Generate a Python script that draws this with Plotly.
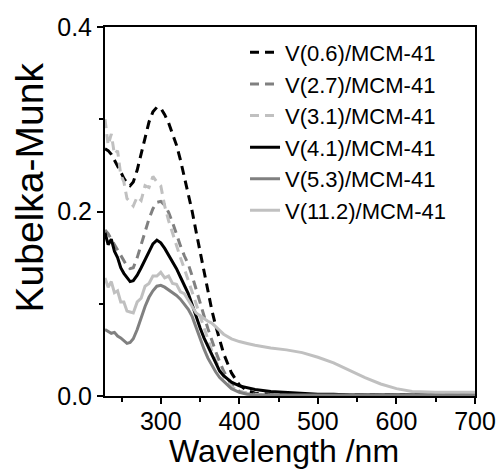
import plotly.graph_objects as go

# wavelength grid (nm)
wavelength = [229, 233, 237, 241, 245, 249, 253, 257, 261, 265, 270, 275, 280, 285, 290,
              295, 300, 305, 310, 315, 320, 325, 330, 335, 340, 345, 350, 355, 360, 365,
              370, 375, 380, 390, 400, 410, 420, 440, 460, 480, 500, 520, 540, 560, 580,
              600, 620, 650, 700]

v06 = [0.268, 0.266, 0.262, 0.256, 0.250, 0.243, 0.236, 0.231, 0.228, 0.232, 0.245, 0.262,
       0.281, 0.297, 0.308, 0.313, 0.312, 0.305, 0.296, 0.284, 0.272, 0.256, 0.238, 0.220,
       0.200, 0.178, 0.156, 0.133, 0.112, 0.093, 0.076, 0.060, 0.046, 0.025, 0.012, 0.006,
       0.003, 0.002, 0.001, 0.001, 0.001, 0.001, 0.001, 0.001, 0.001, 0.001, 0.001, 0.001,
       0.001]

v27 = [0.180, 0.176, 0.170, 0.164, 0.158, 0.152, 0.146, 0.141, 0.138, 0.139, 0.150, 0.163,
       0.178, 0.192, 0.203, 0.210, 0.211, 0.207, 0.199, 0.188, 0.175, 0.163, 0.152, 0.143,
       0.130, 0.115, 0.100, 0.087, 0.073, 0.060, 0.048, 0.037, 0.027, 0.012, 0.005, 0.003,
       0.002, 0.001, 0.001, 0.001, 0.001, 0.001, 0.001, 0.001, 0.001, 0.001, 0.001, 0.001,
       0.001]

v31 = [0.300, 0.272, 0.284, 0.262, 0.266, 0.240, 0.232, 0.214, 0.210, 0.206, 0.216, 0.212,
       0.228, 0.226, 0.238, 0.232, 0.228, 0.206, 0.190, 0.176, 0.162, 0.150, 0.138, 0.126,
       0.113, 0.100, 0.087, 0.074, 0.061, 0.049, 0.038, 0.029, 0.021, 0.010, 0.005, 0.003,
       0.002, 0.001, 0.001, 0.001, 0.001, 0.001, 0.001, 0.001, 0.001, 0.001, 0.001, 0.001,
       0.001]

v41 = [0.177, 0.164, 0.170, 0.157, 0.150, 0.139, 0.133, 0.128, 0.124, 0.125, 0.131, 0.139,
       0.148, 0.157, 0.165, 0.169, 0.166, 0.160, 0.153, 0.146, 0.138, 0.129, 0.120, 0.111,
       0.099, 0.086, 0.074, 0.063, 0.054, 0.044, 0.035, 0.027, 0.022, 0.015, 0.011, 0.009,
       0.007, 0.005, 0.004, 0.003, 0.002, 0.002, 0.001, 0.001, 0.001, 0.001, 0.001, 0.001,
       0.001]

v53 = [0.072, 0.070, 0.068, 0.069, 0.065, 0.063, 0.060, 0.057, 0.058, 0.062, 0.072, 0.085,
       0.097, 0.107, 0.114, 0.119, 0.120, 0.118, 0.115, 0.112, 0.109, 0.105, 0.100, 0.094,
       0.086, 0.074, 0.062, 0.051, 0.041, 0.033, 0.026, 0.020, 0.016, 0.008, 0.004, 0.002,
       0.001, 0.001, 0.001, 0.001, 0.001, 0.001, 0.001, 0.001, 0.001, 0.001, 0.001, 0.001,
       0.001]

v112 = [0.128, 0.118, 0.124, 0.112, 0.114, 0.102, 0.102, 0.092, 0.091, 0.090, 0.102, 0.106,
        0.119, 0.122, 0.130, 0.130, 0.134, 0.128, 0.130, 0.122, 0.121, 0.113, 0.111, 0.104,
        0.098, 0.090, 0.087, 0.084, 0.081, 0.079, 0.075, 0.071, 0.067, 0.062, 0.059, 0.057,
        0.055, 0.052, 0.050, 0.047, 0.042, 0.036, 0.028, 0.020, 0.013, 0.008, 0.005, 0.004,
        0.004]

series = [
    ("V(0.6)/MCM-41", v06, "#000000", "9px,6px"),
    ("V(2.7)/MCM-41", v27, "#808080", "9px,6px"),
    ("V(3.1)/MCM-41", v31, "#c0c0c0", "9px,6px"),
    ("V(4.1)/MCM-41", v41, "#000000", "solid"),
    ("V(5.3)/MCM-41", v53, "#808080", "solid"),
    ("V(11.2)/MCM-41", v112, "#c0c0c0", "solid"),
]

font_name = "Liberation Sans, Arial, sans-serif"

fig = go.Figure()
for name, vals, col, dash in series:
    fig.add_trace(
        go.Scatter(
            x=wavelength,
            y=vals,
            mode="lines",
            name=name,
            line=dict(color=col, width=3, dash=dash),
        )
    )

fig.update_layout(
    width=497,
    height=471,
    margin=dict(l=105, r=22, t=27, b=75, autoexpand=False),
    plot_bgcolor="white",
    paper_bgcolor="white",
    font=dict(family=font_name, color="black", size=25),
    showlegend=True,
    legend=dict(
        xref="container",
        yref="container",
        x=0.493,
        y=0.933,
        xanchor="left",
        yanchor="top",
        bgcolor="rgba(0,0,0,0)",
        font=dict(size=22, color="black"),
        itemwidth=30,
        tracegroupgap=0,
    ),
    annotations=[
        # axis titles as annotations to place them like the original
        dict(
            text="Kubelka-Munk",
            xref="paper",
            yref="paper",
            x=-0.203,
            y=0.565,
            xanchor="center",
            yanchor="middle",
            textangle=-90,
            showarrow=False,
            font=dict(size=39, color="black"),
        ),
        dict(
            text="Wavelength /nm",
            xref="paper",
            yref="paper",
            x=0.485,
            y=-0.204,
            xanchor="center",
            yanchor="bottom",
            showarrow=False,
            font=dict(size=32, color="black"),
        ),
    ],
)

fig.update_xaxes(
    range=[229, 700],
    tick0=300,
    dtick=100,
    ticks="outside",
    ticklen=6,
    tickwidth=2,
    tickcolor="black",
    ticklabelstandoff=-4,
    minor=dict(dtick=50, tick0=250, ticks="outside", ticklen=4, tickwidth=2, tickcolor="black"),
    showline=True,
    linecolor="black",
    linewidth=2,
    mirror=True,
    showgrid=False,
    zeroline=False,
    automargin=False,
)

fig.update_yaxes(
    range=[0, 0.4],
    tickvals=[0, 0.2, 0.4],
    tickformat=".1f",
    ticks="outside",
    ticklen=6,
    tickwidth=2,
    tickcolor="black",
    minor=dict(tickvals=[0.1, 0.3], ticks="outside", ticklen=4, tickwidth=2, tickcolor="black"),
    showline=True,
    linecolor="black",
    linewidth=2,
    mirror=True,
    showgrid=False,
    zeroline=False,
    automargin=False,
)

# page body has a default 8px margin; drop it so the figure sits at the window corner
fig.write_html(
    "out.html",
    config={"displayModeBar": False},
    post_script="document.body.style.margin = '0';",
)
